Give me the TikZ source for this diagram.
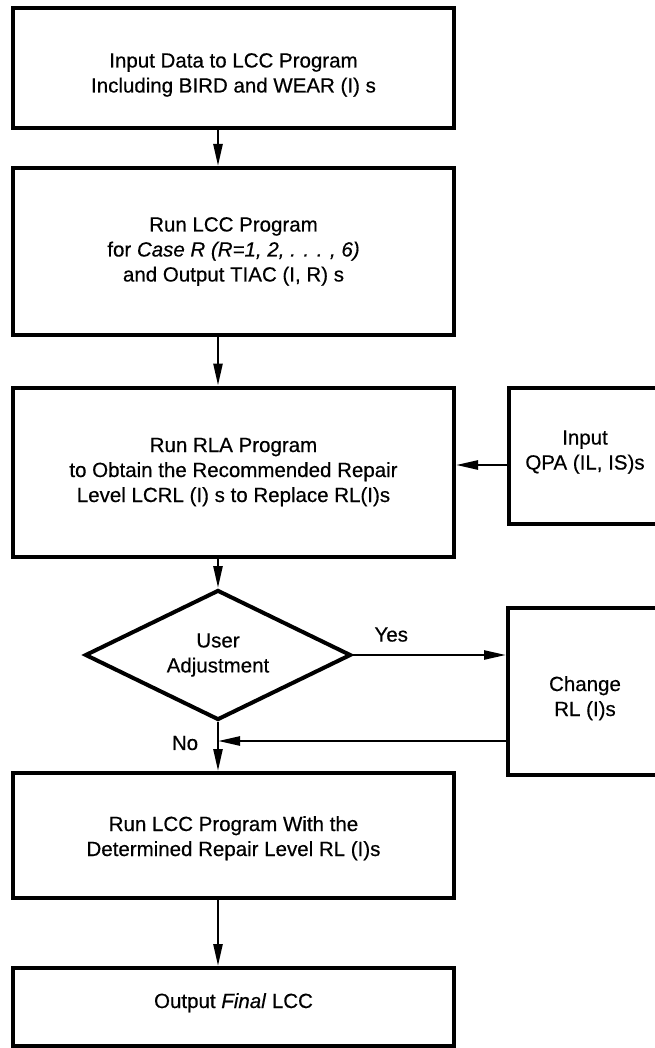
\documentclass[tikz,border=0pt]{standalone}
\usepackage{fontspec}
\setmainfont[FakeBold=0.5]{Liberation Sans}
\usetikzlibrary{arrows.meta,shapes.geometric}

% text block lowered (or raised) inside its frame by #1
\newcommand\lowtext[2]{\raisebox{-#1}[\height][\depth]{\begin{tabular}{@{}c@{}}#2\end{tabular}}}

\tikzset{
  stepbox/.style={draw, line width=4pt, rectangle, inner sep=0pt, align=center},
  decision/.style={draw, line width=4pt, diamond, inner sep=0pt, aspect=2.05,
    minimum width=266pt, minimum height=130pt, align=center},
  conn/.style={line width=2.5pt, -{Triangle[length=22pt,width=9pt]}},
  lbl/.style={inner sep=0pt}
}

\begin{document}
\begin{tikzpicture}[x=1pt, y=-1pt, font=\fontsize{20.5}{25}\selectfont]
\clip (0,0) rectangle (655,1048);

\node[stepbox, minimum width=441pt, minimum height=120pt] (b1) at (233.5,68)
  {\lowtext{7pt}{Input Data to LCC Program\\Including BIRD and WEAR (I) s}};
\node[stepbox, minimum width=441pt, minimum height=167pt] (b2) at (233.5,251.5)
  {\lowtext{0pt}{Run LCC Program\\for \textit{Case R (R=1, 2, . . . , 6)}\\and Output TIAC (I, R) s}};
\node[stepbox, minimum width=441pt, minimum height=169pt] (b3) at (233.5,472)
  {\lowtext{0pt}{Run RLA Program\\to Obtain the Recommended Repair\\Level LCRL (I) s to Replace RL(I)s}};
\node[stepbox, minimum width=153pt, minimum height=136pt] (qpa) at (585,456)
  {\lowtext{-4pt}{Input\\QPA (IL, IS)s}};
\node[decision] (d) at (218,655) {User\\Adjustment};
\node[stepbox, minimum width=154pt, minimum height=167pt] (chg) at (585,691.5)
  {\lowtext{7pt}{Change\\RL (I)s}};
\node[stepbox, minimum width=441pt, minimum height=125pt] (b4) at (233.5,835.5)
  {\lowtext{3pt}{Run LCC Program With the\\Determined Repair Level RL (I)s}};
\node[stepbox, minimum width=441pt, minimum height=78pt] (b5) at (233.5,1007)
  {\lowtext{-4pt}{Output \textit{Final} LCC}};

\coordinate (qy) at (0,465);
\coordinate (join) at (218,741);

\draw[conn] (b1.south -| d) -- (b2.north -| d);
\draw[conn] (b2.south -| d) -- (b3.north -| d);
\draw[conn] (qpa.west |- qy) -- (b3.east |- qy);
\draw[conn] (b3.south -| d) -- (d.north);
\draw[conn] (d.east) -- (chg.west |- d.east)
  node[lbl, pos=0.25, above=12pt] (yes) {Yes};
\draw[conn] (chg.west |- join) -- (join);
\draw[conn] (d.south) -- (d.south |- b4.north);
\node[lbl] (no) at (185,743) {No};
\draw[conn] (b4.south -| d) -- (b5.north -| d);
\end{tikzpicture}
\end{document}
